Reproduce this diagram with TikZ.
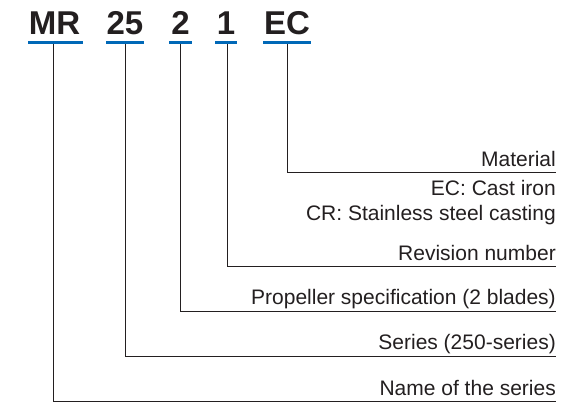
\documentclass[tikz,border=0pt]{standalone}
\usepackage{fontspec}
\setmainfont{Liberation Sans}
\definecolor{ink}{HTML}{231F20}
\definecolor{blueline}{HTML}{0068B7}
\begin{document}
\begin{tikzpicture}[x=1pt,y=-1pt,
  code/.style={font=\fontsize{33}{33}\selectfont\bfseries, text=ink, inner sep=0pt, anchor=base},
  lbl/.style={font=\fontsize{21}{24}\selectfont, text=ink, inner sep=0pt, anchor=base east},
  uline/.style={draw=blueline, line width=3pt},
  lead/.style={draw=ink, line width=1pt}]
\useasboundingbox (0,0) rectangle (588,403);
% codes
\node[code] (mr) at (54.5,35) {MR};
\node[code] (c25) at (125,35) {25};
\node[code] (c2) at (180.5,35) {2};
\node[code] (c1) at (226,35) {1};
\node[code] (ec) at (287,35) {EC};
% underlines
\draw[uline] (28,42.7) -- (83,42.7);
\draw[uline] (106,42.7) -- (144,42.7);
\draw[uline] (169,42.7) -- (192,42.7);
\draw[uline] (215,42.7) -- (237,42.7);
\draw[uline] (263,42.7) -- (311,42.7);
% labels
\node[lbl] (mat) at (556,167) {Material};
\node[lbl] (matec) at (556,196) {EC: Cast iron};
\node[lbl] (matcr) at (556,220) {CR: Stainless steel casting};
\node[lbl] (rev) at (556,260) {Revision number};
\node[lbl] (prop) at (556,304) {Propeller specification (2 blades)};
\node[lbl] (ser) at (556,349) {Series (250-series)};
\node[lbl] (name) at (556,395) {Name of the series};
% lead line anchors
\coordinate (ecT) at (287.5,44.2);
\coordinate (c1T) at (227,44.2);
\coordinate (c2T) at (180.5,44.2);
\coordinate (c25T) at (125,44.2);
\coordinate (mrT) at (53,44.2);
\coordinate (matE) at (556,173);
\coordinate (revE) at (556,266.5);
\coordinate (propE) at (556,311);
\coordinate (serE) at (556,356);
\coordinate (nameE) at (556,401.5);
% leads
\draw[lead] (ecT) |- (matE);
\draw[lead] (c1T) |- (revE);
\draw[lead] (c2T) |- (propE);
\draw[lead] (c25T) |- (serE);
\draw[lead] (mrT) |- (nameE);
\end{tikzpicture}
\end{document}
